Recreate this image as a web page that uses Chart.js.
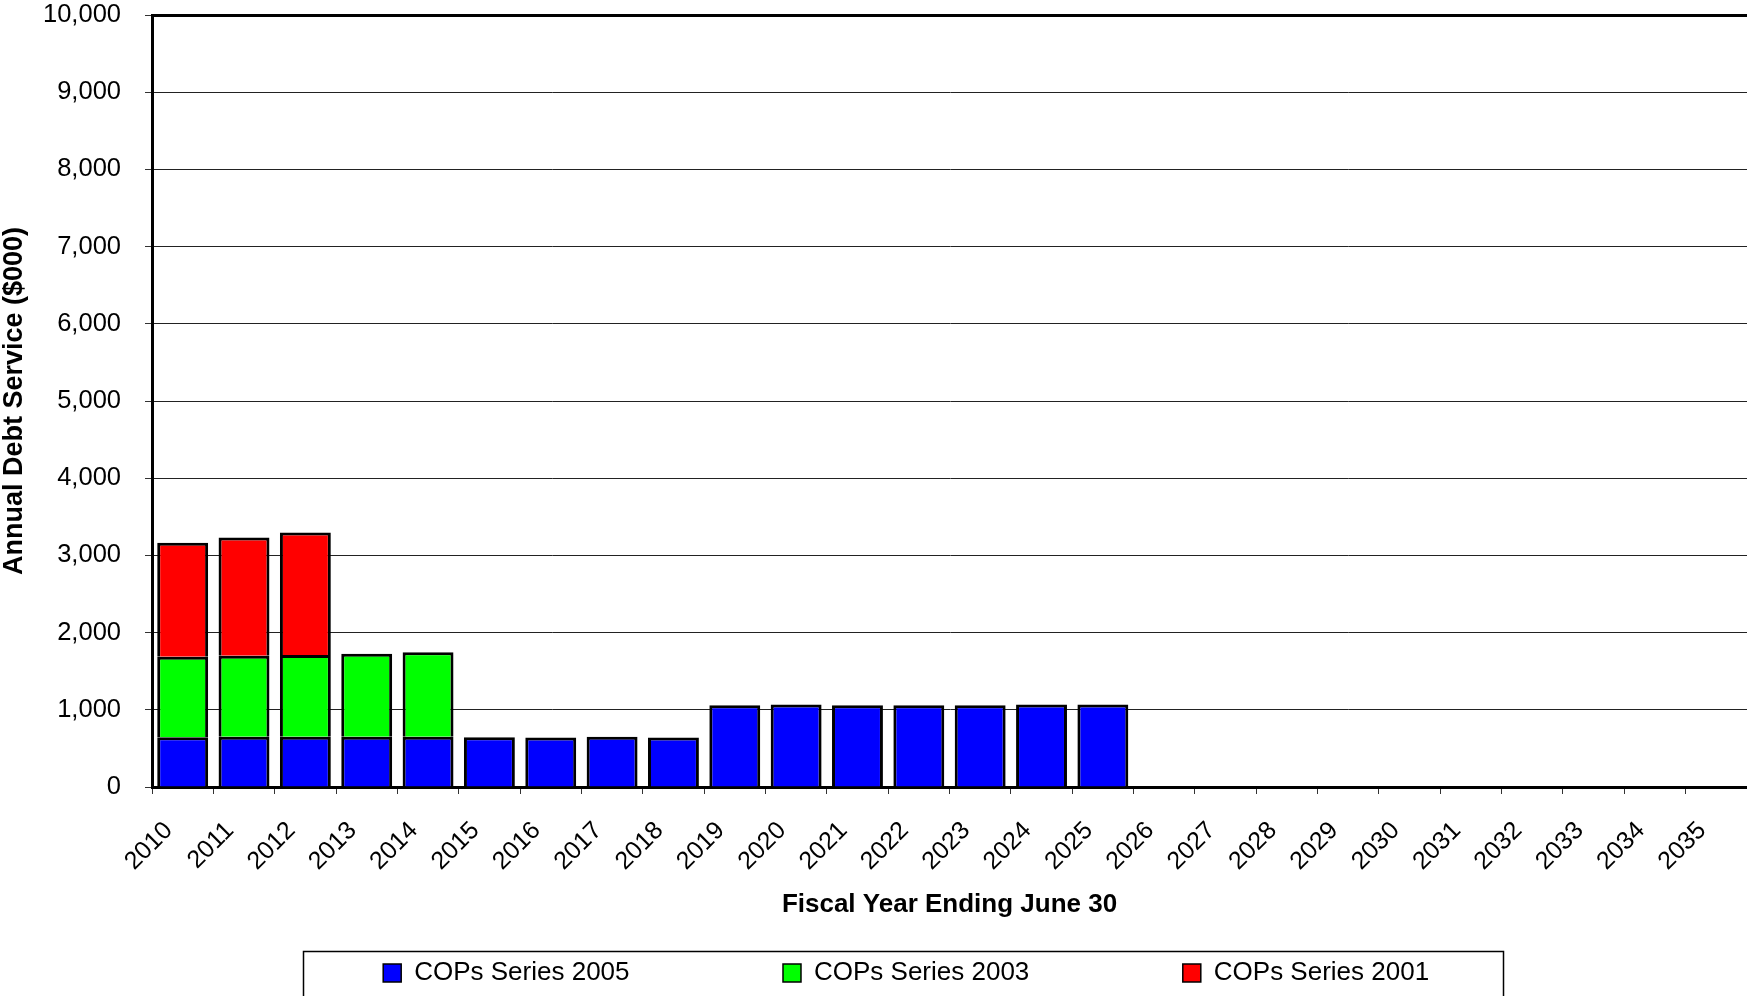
<!DOCTYPE html>
<html lang="en">
<head>
  <meta charset="UTF-8" />
  <title>Annual Debt Service</title>
  <script src="https://cdn.jsdelivr.net/npm/chart.js"></script>
  <style>
    html, body {
      margin: 0;
      padding: 0;
      background: #fff;
      overflow: hidden;
    }
    canvas { display: block; }
  </style>
</head>
<body>
  <canvas id="debtChart" width="1747" height="996"></canvas>

  <script>
    // categories + values ($000)
    const years = ['2010', '2011', '2012', '2013', '2014', '2015', '2016', '2017', '2018',
      '2019', '2020', '2021', '2022', '2023', '2024', '2025', '2026', '2027', '2028',
      '2029', '2030', '2031', '2032', '2033', '2034', '2035'];
    const cops2005 = [645, 650, 650, 650, 650, 645, 640, 650, 640,
      1060, 1070, 1060, 1060, 1060, 1070, 1070, null, null, null,
      null, null, null, null, null, null, null];
    const cops2003 = [1042, 1050, 1059, 1076, 1094];
    const cops2001 = [1476, 1532, 1588];
    const yTicks = [0, 1000, 2000, 3000, 4000, 5000, 6000, 7000, 8000, 9000, 10000];

    Chart.defaults.font.family = "'Liberation Sans', Arial, sans-serif";
    Chart.defaults.color = '#000';

    // legend items are spread out with trailing spaces (same gap as the original)
    const legendGap = [20, 20, 12];

    // thin frame round the legend
    const legendFrame = {
      id: 'legendFrame',
      afterDraw(chart) {
        const lg = chart.legend;
        if (!lg || !lg.legendHitBoxes || !lg.legendHitBoxes.length) return;
        const hb = lg.legendHitBoxes;
        const x0 = Math.round(hb[0].left - 80);
        const x1 = Math.round(hb[hb.length - 1].left + 320);
        const ctx = chart.ctx;
        ctx.save();
        ctx.strokeStyle = '#000';
        ctx.lineWidth = 1.5;
        ctx.strokeRect(x0 + 0.5, Math.round(lg.top) + 0.5, x1 - x0, lg.height + 20);
        ctx.restore();
      }
    };

    const barStyle = {
      borderColor: '#000',
      borderWidth: 3,
      barPercentage: 0.83,
      categoryPercentage: 1.0
    };

    new Chart(document.getElementById('debtChart'), {
      type: 'bar',
      data: {
        labels: years,
        datasets: [
          { label: 'COPs Series 2005', data: cops2005, backgroundColor: '#0000ff', ...barStyle },
          { label: 'COPs Series 2003', data: cops2003, backgroundColor: '#00ff00', ...barStyle },
          { label: 'COPs Series 2001', data: cops2001, backgroundColor: '#ff0000', ...barStyle }
        ]
      },
      options: {
        responsive: false,
        animation: false,
        layout: { padding: 0 },
        plugins: {
          tooltip: { enabled: false },
          legend: {
            position: 'bottom',
            fullSize: false,
            labels: {
              boxWidth: 18,
              boxHeight: 18,
              padding: 9,
              color: '#000',
              font: { size: 26 },
              generateLabels(chart) {
                const items = Chart.defaults.plugins.legend.labels.generateLabels(chart);
                items.forEach((it, i) => {
                  it.text = it.text + ' '.repeat(legendGap[i] || 0);
                  it.lineWidth = 1.5;
                });
                return items;
              }
            }
          }
        },
        scales: {
          x: {
            stacked: true,
            afterFit(s) {
              s.height = 164;
              s.paddingLeft = 0;
              s.paddingRight = 0;
            },
            grid: {
              offset: true,
              drawOnChartArea: false,
              tickLength: 7,
              color: '#333'
            },
            border: { display: true, color: '#000', width: 3 },
            ticks: {
              autoSkip: false,
              minRotation: 45,
              maxRotation: 45,
              padding: 22,
              labelOffset: -14,
              font: { size: 25 },
              color: '#000'
            },
            title: {
              display: true,
              text: 'Fiscal Year Ending June 30',
              font: { size: 26, weight: 'bold' },
              color: '#000',
              padding: { top: 0, bottom: 31 }
            }
          },
          y: {
            stacked: true,
            min: 0,
            max: 10000,
            afterFit(s) {
              s.width = 152;
              s.paddingTop = 15;
              s.paddingBottom = 0;
            },
            afterBuildTicks(s) { s.ticks = yTicks.map(v => ({ value: v })); },
            grid: {
              color: ctx => (ctx.tick && ctx.tick.value === 10000 ? '#000' : '#222'),
              lineWidth: ctx => (ctx.tick && ctx.tick.value === 10000 ? 3 : 1),
              tickLength: 7,
              tickWidth: 1,
              tickColor: '#333'
            },
            border: { display: true, color: '#000', width: 3 },
            ticks: {
              padding: 24,
              font: { size: 25.5 },
              color: '#000',
              callback: v => Number(v).toLocaleString('en-US')
            },
            title: {
              display: true,
              text: 'Annual Debt Service ($000)',
              font: { size: 27, weight: 'bold', lineHeight: 1 },
              color: '#000',
              padding: { top: 1, bottom: 0 }
            }
          }
        }
      },
      plugins: [legendFrame]
    });
  </script>
</body>
</html>
